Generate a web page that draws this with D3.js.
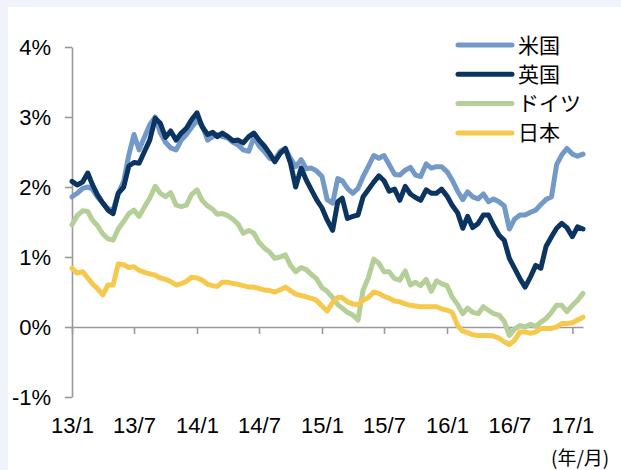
<!DOCTYPE html>
<html>
<head>
<meta charset="utf-8">
<script src="https://cdn.jsdelivr.net/npm/d3@7"></script>
<style>
  body { margin: 0; background: #f0f4fa; }
  svg { display: block; }
</style>
</head>
<body>
<div class="yieldChart"></div>
<script>
// Series names and colours (legend order)
const seriesNames = ["米国", "英国", "ドイツ", "日本"];
const seriesColors = ["#7399c8", "#0c3460", "#b5cf98", "#f6c94c"];

// 10y yields (%), twice a month (1st and 16th), 2013/1/1 - 2017/2/1
const usYield = [1.86, 1.91, 1.98, 2.0, 1.97, 1.86, 1.77, 1.69, 1.67, 1.91, 2.08, 2.46, 2.75, 2.53, 2.72, 2.89, 3.0, 2.77, 2.64, 2.56, 2.53, 2.67, 2.75, 2.85, 2.95,
  2.88, 2.67, 2.72, 2.75, 2.72, 2.7, 2.64, 2.6, 2.53, 2.51, 2.71, 2.59, 2.51, 2.41, 2.39, 2.51, 2.55, 2.41, 2.29, 2.39, 2.26, 2.27, 2.23, 2.15,
  1.82, 1.77, 2.12, 2.09, 1.98, 1.91, 1.98, 2.15, 2.29, 2.45, 2.41, 2.45, 2.32, 2.18, 2.17, 2.24, 2.28, 2.17, 2.15, 2.33, 2.27, 2.29, 2.29, 2.22,
  2.1, 1.94, 1.82, 1.93, 1.86, 1.83, 1.9, 1.79, 1.83, 1.79, 1.73, 1.4, 1.54, 1.6, 1.6, 1.64, 1.67, 1.75, 1.82, 1.86, 2.32, 2.46, 2.55, 2.47, 2.44, 2.47];
const ukYield = [2.08, 2.03, 2.07, 2.2, 2.04, 1.89, 1.77, 1.67, 1.62, 1.91, 2.0, 2.3, 2.35, 2.34, 2.51, 2.67, 2.98, 2.91, 2.71, 2.8, 2.67, 2.77, 2.84, 2.96, 3.06,
  2.86, 2.75, 2.78, 2.72, 2.77, 2.72, 2.66, 2.67, 2.63, 2.72, 2.77, 2.67, 2.59, 2.48, 2.36, 2.48, 2.55, 2.34, 2.0, 2.27, 2.1, 1.96, 1.82, 1.7,
  1.53, 1.38, 1.79, 1.84, 1.55, 1.58, 1.6, 1.86, 1.96, 2.07, 2.16, 2.09, 1.94, 1.97, 1.81, 2.01, 1.9, 1.85, 1.81, 1.96, 1.91, 1.91, 1.97, 1.87,
  1.74, 1.63, 1.41, 1.58, 1.42, 1.48, 1.6, 1.6, 1.45, 1.31, 1.24, 0.98, 0.84, 0.69, 0.57, 0.72, 0.88, 0.84, 1.15, 1.29, 1.41, 1.48, 1.42, 1.29, 1.43, 1.4];
const deYield = [1.46, 1.59, 1.66, 1.65, 1.53, 1.45, 1.33, 1.26, 1.24, 1.4, 1.51, 1.62, 1.67, 1.58, 1.72, 1.84, 2.01, 1.91, 1.86, 1.92, 1.74, 1.72, 1.74, 1.89, 1.96,
  1.81, 1.73, 1.68, 1.61, 1.62, 1.59, 1.54, 1.47, 1.34, 1.38, 1.34, 1.21, 1.13, 1.07, 0.98, 1.0, 1.03, 0.88, 0.79, 0.85, 0.82, 0.75, 0.69, 0.56,
  0.51, 0.42, 0.32, 0.27, 0.21, 0.17, 0.1, 0.53, 0.7, 0.97, 0.91, 0.79, 0.79, 0.69, 0.67, 0.8, 0.6, 0.64, 0.59, 0.68, 0.51, 0.66, 0.62, 0.59,
  0.43, 0.32, 0.19, 0.27, 0.21, 0.19, 0.29, 0.24, 0.19, 0.17, 0.08, -0.12, -0.03, 0.02, 0.0, 0.04, 0.01, 0.07, 0.12, 0.21, 0.31, 0.31, 0.22, 0.31, 0.38, 0.48];
const jpYield = [0.84, 0.77, 0.79, 0.7, 0.62, 0.55, 0.46, 0.6, 0.6, 0.9, 0.89, 0.85, 0.86, 0.81, 0.78, 0.76, 0.74, 0.7, 0.68, 0.65, 0.6, 0.62, 0.65, 0.71, 0.7,
  0.67, 0.61, 0.59, 0.58, 0.64, 0.64, 0.62, 0.61, 0.59, 0.57, 0.57, 0.55, 0.53, 0.52, 0.5, 0.53, 0.57, 0.52, 0.47, 0.45, 0.43, 0.41, 0.38, 0.3,
  0.23, 0.35, 0.42, 0.42, 0.36, 0.33, 0.32, 0.38, 0.42, 0.5, 0.48, 0.44, 0.41, 0.37, 0.36, 0.33, 0.31, 0.3, 0.29, 0.29, 0.29, 0.29, 0.26, 0.24,
  0.21, 0.02, -0.06, -0.08, -0.11, -0.12, -0.12, -0.12, -0.13, -0.16, -0.21, -0.25, -0.19, -0.07, -0.07, -0.09, -0.07, -0.02, -0.02, -0.02, 0.0, 0.05, 0.05, 0.06, 0.1, 0.14];

// Axis ticks
const yTicks = [-1, 0, 1, 2, 3, 4];
const xTickLabels = ["13/1", "13/7", "14/1", "14/7", "15/1", "15/7", "16/1", "16/7", "17/1"];

const allSeries = [usYield, ukYield, deYield, jpYield];
const dates = usYield.map((d, i) => new Date(2013, Math.floor(i / 2), i % 2 ? 16 : 1));
const xTickDates = xTickLabels.map(s => {
    const [yy, mm] = s.split("/");
    return new Date(2000 + +yy, +mm - 1, 1);
});

const width = 621;
const height = 470;
const fontAxis = "'Liberation Sans', Arial, Helvetica, sans-serif";
const fontJp = "'Noto Sans CJK JP', 'Noto Sans', sans-serif";

const svg = d3.select(".yieldChart")
    .append("svg")
    .attr("width", width)
    .attr("height", height);

// white panel with light frame at top/left
svg.append("rect")
    .attr("x", 8)
    .attr("y", 7)
    .attr("width", width - 8)
    .attr("height", height - 7)
    .attr("fill", "#fff");

const x = d3.scaleTime()
    .domain([new Date(2013, 0, 1), new Date(2017, 1, 1)])
    .range([72, 583]);
const y = d3.scaleLinear()
    .domain([-1, 4])
    .range([397, 47]);

// Y axis
const yAxis = svg.append("g")
    .attr("transform", "translate(72,0)")
    .call(d3.axisLeft(y)
        .tickValues(yTicks)
        .tickFormat(d => d + "%")
        .tickSize(7)
        .tickSizeOuter(0)
        .tickPadding(14));

// X axis on 0% line (ticks only)
const xAxis = svg.append("g")
    .attr("transform", "translate(0," + y(0) + ")")
    .call(d3.axisBottom(x)
        .tickValues(xTickDates)
        .tickFormat("")
        .tickSize(7)
        .tickSizeOuter(0));

// X tick labels at the bottom
const xLabels = svg.append("g")
    .attr("transform", "translate(0," + y(-1) + ")")
    .call(d3.axisBottom(x)
        .tickValues(xTickDates)
        .tickFormat((d, i) => xTickLabels[i])
        .tickSize(0)
        .tickPadding(20));
xLabels.select(".domain").remove();

[yAxis, xAxis].forEach(g => {
    g.selectAll("path, line")
        .attr("stroke", "#9a9a9a")
        .attr("stroke-width", 1.6);
});
[yAxis, xLabels].forEach(g => {
    g.selectAll("text")
        .style("font-family", fontAxis)
        .style("font-size", "22px")
        .attr("fill", "#000");
});

// Lines
const line = d3.line()
    .x((d, i) => x(dates[i]))
    .y(d => y(d));

svg.append("g")
    .selectAll("path")
    .data(allSeries)
    .join("path")
    .attr("d", line)
    .attr("fill", "none")
    .attr("stroke", (d, i) => seriesColors[i])
    .attr("stroke-width", 5)
    .attr("stroke-linejoin", "round")
    .attr("stroke-linecap", "round");

// Legend
const legend = svg.append("g")
    .selectAll("g")
    .data(seriesNames)
    .join("g")
    .attr("transform", (d, i) => `translate(458,${45 + i * 29.3})`);

legend.append("line")
    .attr("x1", 0)
    .attr("x2", 54)
    .attr("stroke", (d, i) => seriesColors[i])
    .attr("stroke-width", 5)
    .attr("stroke-linecap", "round");

legend.append("text")
    .attr("x", 60)
    .attr("dy", "0.36em")
    .style("font-family", fontJp)
    .style("font-size", "21px")
    .text(d => d);

// unit note
svg.append("text")
    .attr("x", 551)
    .attr("y", 465)
    .style("font-family", fontJp)
    .style("font-size", "19px")
    .text("(年/月)");
</script>
</body>
</html>
